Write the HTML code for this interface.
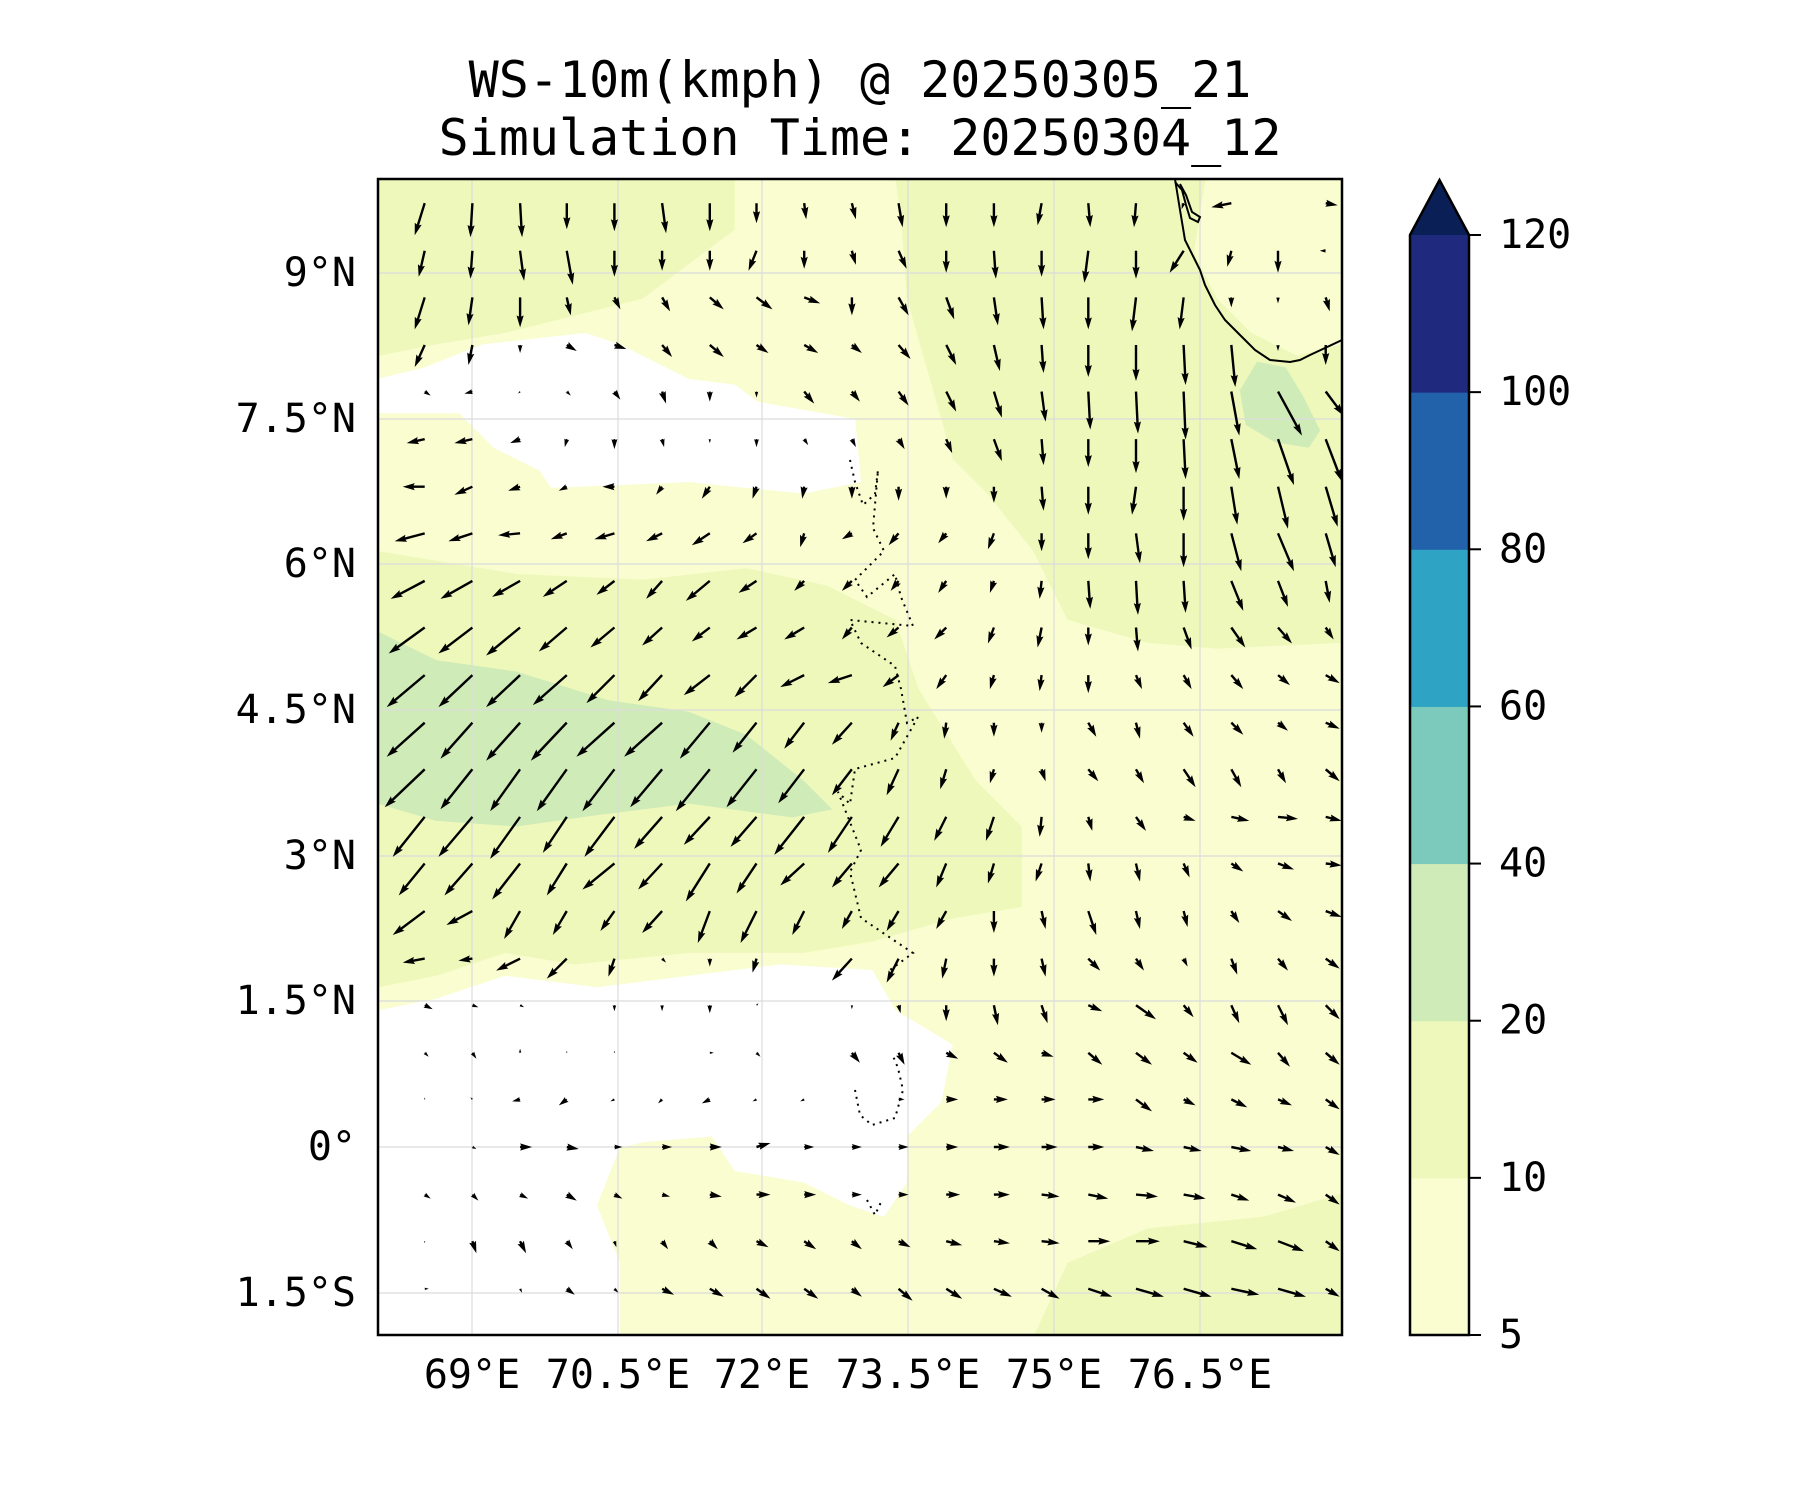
<!DOCTYPE html>
<html><head><meta charset="utf-8"><style>
html,body{margin:0;padding:0;background:#fff;}
svg{display:block;}
text{font-family:"DejaVu Sans Mono","Liberation Mono",monospace;fill:#000;}
</style></head><body>
<svg id="chart" width="1800" height="1500" viewBox="0 0 1800 1500" xmlns="http://www.w3.org/2000/svg">
<defs><clipPath id="plotclip"><rect x="378" y="179" width="964" height="1156"/></clipPath></defs>
<text x="860" y="80" font-size="50" text-anchor="middle" dominant-baseline="central">WS-10m(kmph) @ 20250305_21</text>
<text x="860" y="138" font-size="50" text-anchor="middle" dominant-baseline="central">Simulation Time: 20250304_12</text>
<g clip-path="url(#plotclip)">
<rect x="378" y="179" width="964" height="1156" fill="#f9fdcf"/>
<g transform="scale(1.148)">
<polygon fill="#eef8bb" points="329,156 640,156 640,200 600,230 560,260 500,275 440,290 380,300 329,310"/>
<polygon fill="#eef8bb" points="780,156 1168,156 1168,560 1060,565 1000,560 930,540 900,480 860,430 830,400 810,330 790,260 785,190"/>
<polygon fill="#f9fdcf" points="1050,156 1168,156 1168,300 1130,310 1090,290 1060,260 1040,220"/>
<polygon fill="#eef8bb" points="329,480 450,500 560,505 650,495 720,510 780,540 800,600 850,680 890,720 890,790 830,800 760,820 700,830 600,830 500,840 440,830 380,850 329,860"/>
<polygon fill="#eef8bb" points="900,1165 930,1100 1000,1070 1100,1060 1168,1040 1168,1165"/>
<polygon fill="#cfebb8" points="329,550 380,575 450,585 530,610 600,620 650,640 700,680 725,705 690,712 600,700 520,710 450,720 380,715 329,700"/>
<polygon fill="#cfebb8" points="1095,315 1120,320 1135,345 1150,375 1140,390 1110,385 1085,370 1080,340"/>
<polygon fill="#ffffff" points="329,330 370,320 420,300 510,290 540,300 600,330 640,335 660,350 745,365 750,420 700,430 600,420 480,425 470,410 430,390 400,360 329,360"/>
<polygon fill="#ffffff" points="329,880 380,870 440,850 520,860 600,850 680,840 760,845 780,880 830,910 820,960 790,990 790,1030 770,1060 740,1050 700,1030 640,1020 620,990 560,995 540,1000 520,1050 540,1100 540,1165 329,1165"/>
</g>
<g stroke="#dcdcdc" stroke-width="1.2">
<line x1="472" y1="179" x2="472" y2="1335"/><line x1="618" y1="179" x2="618" y2="1335"/><line x1="762" y1="179" x2="762" y2="1335"/><line x1="908" y1="179" x2="908" y2="1335"/><line x1="1054" y1="179" x2="1054" y2="1335"/><line x1="1200" y1="179" x2="1200" y2="1335"/>
<line x1="378" y1="273" x2="1342" y2="273"/><line x1="378" y1="419" x2="1342" y2="419"/><line x1="378" y1="564" x2="1342" y2="564"/><line x1="378" y1="710" x2="1342" y2="710"/><line x1="378" y1="856" x2="1342" y2="856"/><line x1="378" y1="1001" x2="1342" y2="1001"/><line x1="378" y1="1147" x2="1342" y2="1147"/><line x1="378" y1="1293" x2="1342" y2="1293"/>
</g>
<polyline fill="none" stroke="#000" stroke-width="2" points="1175,179 1180,210 1185,240 1200,270 1205,285 1215,305 1225,320 1240,335 1255,350 1270,360 1290,362 1300,360 1310,355 1325,348 1342,340"/>
<polyline fill="none" stroke="#000" stroke-width="2" points="1175,182 1182,190 1186,205 1190,218 1198,222 1200,217 1192,212 1186,195 1180,184"/>
<g fill="none" stroke="#000" stroke-width="2" stroke-dasharray="2 5">
<polyline points="850,460 855,482 863,505 875,494 878,470 873,528 884,551 855,580 867,597 895,574 901,597 913,626 850,620 861,643 895,666 901,689 907,723 918,717 895,758 855,769 850,804 838,792 861,850 850,872 861,918 895,941 913,953 890,970"/>
<polyline points="855,1090 860,1115 872,1125 895,1118 903,1090 898,1068 893,1056"/>
<polyline points="867,1200 875,1215 882,1200"/>
</g>
<g id="arrows"></g>
</g>
<rect x="378" y="179" width="964" height="1156" fill="none" stroke="#000" stroke-width="2.5"/>
<g font-size="40" text-anchor="end">
<text x="356" y="273" dominant-baseline="central">9°N</text>
<text x="356" y="419" dominant-baseline="central">7.5°N</text>
<text x="356" y="564" dominant-baseline="central">6°N</text>
<text x="356" y="710" dominant-baseline="central">4.5°N</text>
<text x="356" y="856" dominant-baseline="central">3°N</text>
<text x="356" y="1001" dominant-baseline="central">1.5°N</text>
<text x="356" y="1147" dominant-baseline="central">0°</text>
<text x="356" y="1293" dominant-baseline="central">1.5°S</text>
</g>
<g font-size="40" text-anchor="middle">
<text x="472" y="1375" dominant-baseline="central">69°E</text>
<text x="618" y="1375" dominant-baseline="central">70.5°E</text>
<text x="762" y="1375" dominant-baseline="central">72°E</text>
<text x="908" y="1375" dominant-baseline="central">73.5°E</text>
<text x="1054" y="1375" dominant-baseline="central">75°E</text>
<text x="1200" y="1375" dominant-baseline="central">76.5°E</text>
</g>
<g id="colorbar"></g>
</svg>
<script>
var cbLevels = [5, 10, 20, 40, 60, 80, 100, 120];
var cbColors = ["#f9fdcf", "#eef8bb", "#cfebb8", "#7ccabb", "#2ea3c3", "#2262aa", "#1f2a7e"];
var cbOverColor = "#0a1f55";
var lons = [68.51,69.00,69.49,69.97,70.46,70.95,71.44,71.92,72.41,72.90,73.38,73.87,74.36,74.85,75.33,75.82,76.31,76.80,77.28,77.77];
var lats = [9.72,9.23,8.75,8.26,7.78,7.29,6.80,6.32,5.83,5.35,4.86,4.37,3.89,3.40,2.92,2.43,1.94,1.46,0.97,0.49,0.00,-0.49,-0.97,-1.46];
var uRows = [
[-5,-1,1,0,0,2,0,0,1,2,2,0,0,-2,1,-1,-1,-10,0,6],
[-3,-1,2,3,0,0,0,-4,0,2,4,0,1,0,-2,0,-7,-2,0,-3],
[-5,-2,0,2,3,4,7,8,8,0,5,4,2,1,0,-2,-2,0,0,2],
[-5,-2,0,5,6,5,7,6,7,5,6,5,3,1,0,0,1,2,0,0],
[3,-4,-1,2,3,2,0,0,5,4,5,5,4,2,1,1,1,4,12,9],
[-9,-9,-5,-1,0,1,0,0,2,2,3,3,4,1,0,0,1,4,8,8],
[-11,-9,-6,-4,-6,-3,-4,-2,-1,0,0,0,0,1,0,-2,0,3,5,6],
[-15,-12,-11,-8,-10,-8,-9,-7,-2,-5,-5,-4,-3,0,0,2,0,5,8,5],
[-17,-16,-14,-12,-9,-8,-12,-9,-5,-5,-4,-4,-2,-1,1,1,1,6,5,2],
[-18,-17,-17,-14,-12,-10,-9,-10,-10,-5,-6,-6,-3,-2,0,1,4,7,7,4],
[-19,-17,-17,-17,-14,-12,-13,-11,-12,-12,-8,-5,-2,-1,0,3,4,6,6,7],
[-19,-16,-17,-18,-19,-19,-15,-12,-10,-10,-4,-1,0,0,4,2,5,6,5,7],
[-20,-16,-15,-15,-16,-16,-17,-15,-13,-10,-6,-3,-2,2,5,4,6,5,4,7],
[-16,-17,-15,-12,-15,-14,-13,-13,-15,-12,-9,-6,-4,-1,2,5,6,9,10,8],
[-13,-14,-14,-10,-16,-12,-12,-10,-12,-10,-10,-5,-3,-3,1,2,3,6,8,8],
[-16,-13,-8,-7,-7,-10,-6,-8,-6,-5,-6,-5,0,2,4,2,2,4,7,8],
[-11,-7,-12,-10,-3,2,0,-2,0,-10,-6,-2,0,2,6,4,2,3,5,7],
[4,3,2,0,0,0,0,1,0,0,1,0,2,3,7,10,5,4,5,7],
[2,2,0,0,0,0,2,2,0,4,3,6,7,6,7,8,7,10,6,7],
[0,-1,-4,-4,-2,-2,-4,-2,-2,0,3,6,7,7,8,8,6,8,7,7],
[0,2,6,6,4,5,6,7,5,5,5,6,8,8,8,9,9,10,8,7],
[3,3,4,5,4,4,6,7,6,5,5,7,8,9,10,11,11,9,9,7],
[0,2,3,3,1,3,4,6,6,5,6,8,8,9,11,12,12,13,13,7],
[2,0,1,4,2,6,7,7,7,5,7,8,9,9,12,14,14,14,14,7]
];
var vRows = [
[-16,-17,-17,-13,-14,-15,-14,-10,-8,-8,-12,-12,-12,-11,-12,-12,-3,-2,0,-1],
[-13,-14,-15,-17,-13,-10,-10,-10,-9,-7,-9,-11,-14,-13,-16,-14,-11,-8,-11,0],
[-16,-14,-15,-9,-6,-7,-6,-6,-3,-9,-9,-11,-14,-16,-16,-17,-16,-5,-3,-7],
[-11,-10,-4,-3,-2,-6,-6,-4,-4,-4,-7,-10,-13,-14,-16,-18,-20,-21,-3,-10],
[-2,-1,-1,-2,-4,-6,-5,-3,-6,-5,-7,-10,-13,-15,-19,-21,-24,-22,-22,-12],
[-2,-2,-2,-4,-5,-4,-2,-4,-3,-4,-5,-7,-11,-13,-14,-17,-20,-20,-23,-21],
[0,-4,-2,-2,0,-4,-6,-6,-6,-6,-7,-6,-8,-12,-14,-14,-17,-19,-21,-20],
[-4,-4,-1,-3,-3,-4,-6,-5,-7,-3,-6,-5,-8,-9,-13,-15,-17,-19,-19,-17],
[-9,-9,-8,-8,-7,-9,-10,-6,-5,-5,-5,-6,-6,-9,-14,-17,-16,-15,-13,-11],
[-13,-13,-14,-12,-10,-9,-7,-6,-6,-6,-5,-6,-8,-10,-9,-12,-11,-10,-8,-6],
[-16,-16,-16,-15,-14,-13,-10,-11,-6,-4,-6,-7,-7,-8,-9,-7,-7,-7,-5,-4],
[-17,-18,-19,-19,-17,-17,-18,-15,-13,-11,-9,-8,-7,-5,-7,-8,-7,-6,-4,-3],
[-19,-20,-21,-21,-21,-19,-21,-19,-17,-13,-13,-10,-7,-6,-6,-7,-9,-9,-7,-6],
[-20,-20,-21,-18,-20,-16,-14,-15,-19,-18,-15,-12,-12,-10,-7,-7,-2,-2,-1,-2],
[-16,-16,-18,-16,-13,-13,-19,-15,-11,-12,-12,-12,-10,-9,-9,-9,-7,-4,-3,-1],
[-12,-7,-14,-12,-10,-11,-16,-16,-12,-9,-10,-9,-11,-9,-12,-9,-8,-6,-5,-3],
[-2,-1,-6,-10,-9,-2,-4,-7,0,-11,-12,-10,-9,-9,-6,-6,-4,-8,-6,-5],
[-2,-1,-1,0,-3,-3,-4,1,0,-2,-4,-8,-10,-9,-3,-7,-6,-9,-10,-7],
[-2,-3,2,1,1,0,0,-2,0,-5,-6,-3,-5,-2,-6,-6,-5,-6,-7,-6],
[1,1,-1,-3,-1,-2,-2,-1,-1,0,0,0,0,0,0,-6,-3,-4,-3,-5],
[0,-1,0,-1,0,0,0,2,0,0,0,0,0,0,0,-2,-2,-2,-2,-4],
[-2,-3,-2,-3,-2,-1,-1,0,0,0,0,0,0,-1,-2,-1,-2,-3,-4,-5],
[-1,-6,-6,-4,-3,-4,-4,-3,-4,-4,-3,-2,-1,-1,0,0,-3,-4,-5,-5],
[0,0,-2,-3,-2,-3,-4,-5,-5,-4,-6,-5,-4,-5,-4,-4,-4,-3,-4,-4]
];
var NS = "http://www.w3.org/2000/svg";
function xOf(lon){ return 378 + (lon - 68.03) * 97.3; }
function yOf(lat){ return 1147 - lat * 97.1; }
var SCALE = 2.0;
var g = document.getElementById("arrows");
for (var i = 0; i < lats.length; i++) {
  for (var j = 0; j < lons.length; j++) {
    var u = uRows[i][j], v = vRows[i][j];
    var dx = u * SCALE, dy = -v * SCALE;
    var L = Math.sqrt(dx*dx + dy*dy);
    if (L < 0.5) continue;
    var x0 = xOf(lons[j]), y0 = yOf(lats[i]);
    var ux = dx / L, uy = dy / L, px = -uy, py = ux;
    var w = 2.4, hl = 12, hal = 10.8, hw = 7.2;
    var s = 1;
    if (L < hl) { s = L / hl; }
    var sw = w * (s < 1 ? s : 1);
    var HL = hl * s, HAL = hal * s, HW = hw * s;
    var pts = [[0, sw/2],[L-HAL, sw/2],[L-HL, HW/2],[L,0],[L-HL,-HW/2],[L-HAL,-sw/2],[0,-sw/2]];
    var str = pts.map(function(p){ return (x0 + ux*p[0] + px*p[1]).toFixed(1) + "," + (y0 + uy*p[0] + py*p[1]).toFixed(1); }).join(" ");
    var poly = document.createElementNS(NS, "polygon");
    poly.setAttribute("points", str);
    poly.setAttribute("fill", "#000");
    
    
    g.appendChild(poly);
  }
}
var cb = document.getElementById("colorbar");
var cbX = 1410, cbW = 59, cbBottom = 1335, cbTop = 235;
var bandH = (cbBottom - cbTop) / (cbLevels.length - 1);
for (var k = 0; k < cbColors.length; k++) {
  var r = document.createElementNS(NS, "rect");
  r.setAttribute("x", cbX); r.setAttribute("width", cbW);
  r.setAttribute("y", cbBottom - (k+1)*bandH); r.setAttribute("height", bandH + 0.5);
  r.setAttribute("fill", cbColors[k]);
  
  
  cb.appendChild(r);
}
var tri = document.createElementNS(NS, "polygon");
tri.setAttribute("points", cbX + "," + cbTop + " " + (cbX+cbW) + "," + cbTop + " " + (cbX+cbW/2) + ",180");
tri.setAttribute("fill", cbOverColor);


cb.appendChild(tri);
var outline = document.createElementNS(NS, "polygon");
outline.setAttribute("points", cbX + "," + cbBottom + " " + cbX + "," + cbTop + " " + (cbX+cbW/2) + ",180 " + (cbX+cbW) + "," + cbTop + " " + (cbX+cbW) + "," + cbBottom);
outline.setAttribute("fill", "none"); outline.setAttribute("stroke", "#000"); outline.setAttribute("stroke-width", "2.5");


cb.appendChild(outline);
for (var k = 0; k < cbLevels.length; k++) {
  var yy = cbBottom - k*bandH;
  var t = document.createElementNS(NS, "line");
  t.setAttribute("x1", cbX+cbW); t.setAttribute("x2", cbX+cbW+12);
  t.setAttribute("y1", yy); t.setAttribute("y2", yy);
  t.setAttribute("stroke", "#000"); t.setAttribute("stroke-width", "2");
  
  
  cb.appendChild(t);
  var tx = document.createElementNS(NS, "text");
  tx.setAttribute("x", 1499); tx.setAttribute("y", yy);
  tx.setAttribute("font-size", "40"); tx.setAttribute("dominant-baseline", "central");
  tx.textContent = String(cbLevels[k]);
  
  
  cb.appendChild(tx);
}
</script>
</body></html>
